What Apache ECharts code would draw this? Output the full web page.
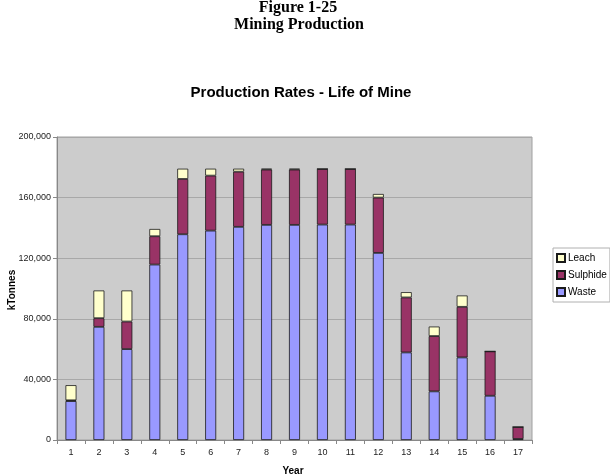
<!DOCTYPE html>
<html><head><meta charset="utf-8">
<script src="https://cdn.jsdelivr.net/npm/echarts@6/dist/echarts.min.js"></script>
<style>html,body{margin:0;padding:0;background:#fff}#c{width:610px;height:476px}</style>
</head><body><div id="c"></div>
<script>
const years = ['1','2','3','4','5','6','7','8','9','10','11','12','13','14','15','16','17'];
const waste    = [25.7, 74.7, 60.0, 115.8, 135.8, 138.2, 140.7, 142.0, 142.0, 142.2, 142.2, 123.5, 57.8, 32.1, 54.5, 29.2, 0.7];
const sulphide = [0.5, 5.7, 18.2, 18.7, 36.5, 36.3, 36.4, 36.5, 36.5, 36.7, 36.7, 36.5, 36.3, 36.5, 33.4, 29.3, 7.9];
const leach    = [10.0, 18.3, 20.5, 4.8, 6.8, 4.6, 2.0, 0.6, 0.6, 0, 0, 2.4, 3.5, 6.3, 7.5, 0, 0];
const yTicks = [0, 40000, 80000, 120000, 160000, 200000];

const k = v => Math.round(v * 1000);
const chart = echarts.init(document.getElementById('c'), null, {renderer: 'canvas'});
const barStyle = c => ({color: c, borderColor: '#1a1a1a', borderWidth: 0.8});
chart.setOption({
  animation: false,
  backgroundColor: '#ffffff',
  graphic: [
    {type: 'text', x: 298, y: 8, style: {text: 'Figure 1-25', font: 'bold 16px "Liberation Serif"', fill: '#000', textAlign: 'center', textVerticalAlign: 'middle'}},
    {type: 'text', x: 299, y: 25, style: {text: 'Mining Production', font: 'bold 16px "Liberation Serif"', fill: '#000', textAlign: 'center', textVerticalAlign: 'middle'}},
    {type: 'text', x: 301, y: 93, style: {text: 'Production Rates - Life of Mine', font: 'bold 15px "Liberation Sans"', fill: '#000', textAlign: 'center', textVerticalAlign: 'middle'}},
    {type: 'text', x: 293, y: 471, style: {text: 'Year', font: 'bold 10px "Liberation Sans"', fill: '#000', textAlign: 'center', textVerticalAlign: 'middle'}},
    {type: 'text', x: 12, y: 290, rotation: Math.PI / 2, style: {text: 'kTonnes', font: 'bold 10px "Liberation Sans"', fill: '#000', textAlign: 'center', textVerticalAlign: 'middle'}}
  ],
  legend: {
    orient: 'vertical', left: 553, top: 248,
    data: ['Leach', 'Sulphide', 'Waste'],
    itemWidth: 8, itemHeight: 8, itemGap: 5, icon: 'rect',
    padding: [4, 3, 4, 3],
    borderColor: '#b0b0b0', borderWidth: 1, backgroundColor: '#fff',
    textStyle: {fontFamily: 'Liberation Sans', fontSize: 10, color: '#000', padding: [0, 0, 0, -2], lineHeight: 12}
  },
  grid: {left: 57, right: 78, top: 137, bottom: 36, show: true, backgroundColor: '#cccccc', borderColor: '#a0a0a0', borderWidth: 1},
  xAxis: {
    type: 'category', data: years, boundaryGap: true,
    axisLine: {lineStyle: {color: '#888', width: 1}},
    axisTick: {show: true, alignWithLabel: false, length: 4, lineStyle: {color: '#888'}},
    axisLabel: {fontFamily: 'Liberation Sans', fontSize: 9, color: '#222', margin: 8}
  },
  yAxis: {
    type: 'value', min: 0, max: 200000, interval: 40000,
    axisLine: {show: true, lineStyle: {color: '#888'}},
    axisTick: {show: true, length: 4, lineStyle: {color: '#888'}},
    splitLine: {lineStyle: {color: '#a8a8a8', width: 1}},
    axisLabel: {fontFamily: 'Liberation Sans', fontSize: 9, color: '#222', margin: 6,
      formatter: v => yTicks.includes(v) ? v.toLocaleString('en-US') : ''}
  },
  series: [
    {name: 'Waste', type: 'bar', stack: 't', barWidth: 11, data: waste.map(k), itemStyle: barStyle('#9999ff')},
    {name: 'Sulphide', type: 'bar', stack: 't', barWidth: 11, data: sulphide.map(k), itemStyle: barStyle('#993366')},
    {name: 'Leach', type: 'bar', stack: 't', barWidth: 11, data: leach.map(k), itemStyle: barStyle('#ffffcc')}
  ]
});
</script></body></html>
